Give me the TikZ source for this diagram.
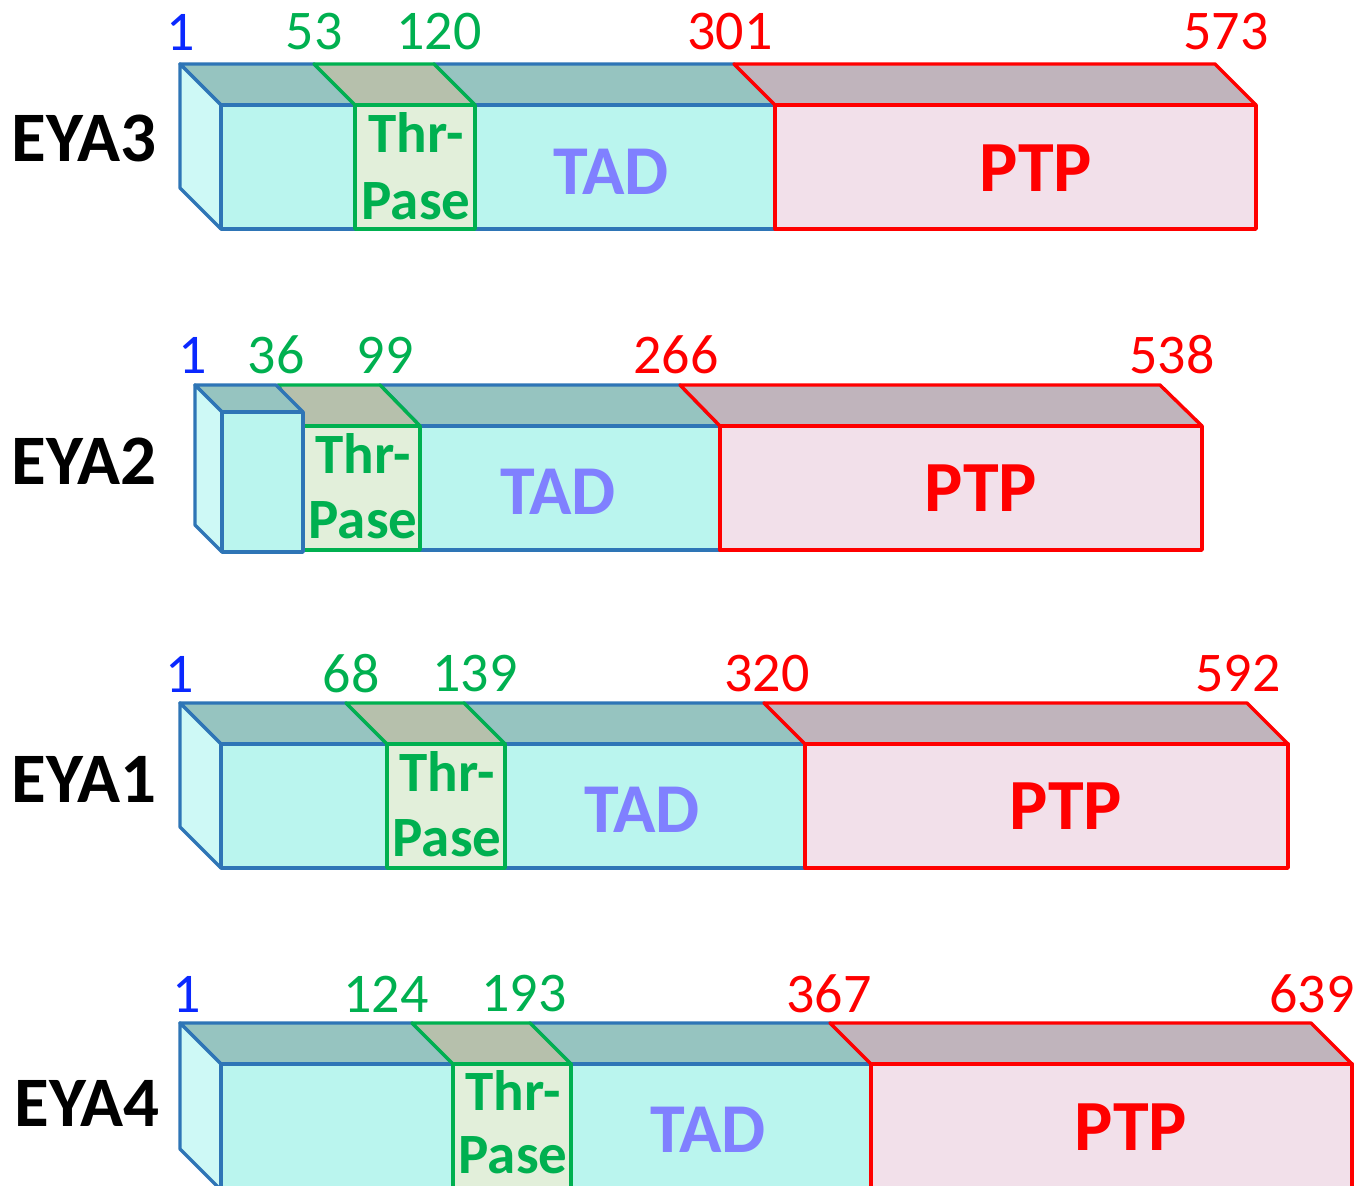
\documentclass[tikz,border=0pt]{standalone}
\usepackage{fontspec}
\setmainfont{Carlito}
\definecolor{bl}{RGB}{46,117,182}
\definecolor{cyfront}{RGB}{186,245,238}
\definecolor{cyside}{RGB}{206,249,246}
\definecolor{cytop}{RGB}{150,196,192}
\definecolor{gr}{RGB}{0,176,80}
\definecolor{grfront}{RGB}{226,239,218}
\definecolor{grtop}{RGB}{182,192,172}
\definecolor{rd}{RGB}{255,0,0}
\definecolor{rdfront}{RGB}{242,224,234}
\definecolor{rdtop}{RGB}{192,180,188}
\definecolor{tadc}{RGB}{128,128,255}
\definecolor{onec}{RGB}{10,40,255}
\tikzset{
  ln/.style={line width=3.4pt, line join=round},
  btop/.style={ln, draw=bl, fill=cytop},
  bfront/.style={ln, draw=bl, fill=cyfront},
  bside/.style={ln, draw=bl, fill=cyside},
  gtop/.style={ln, draw=gr, fill=grtop},
  gfront/.style={ln, draw=gr, fill=grfront},
  rtop/.style={ln, draw=rd, fill=rdtop},
  rfront/.style={ln, draw=rd, fill=rdfront},
  lbl/.style={inner sep=0pt},
  num/.style={lbl, font=\fontsize{56}{60}\selectfont},
  nb/.style={num, text=onec},
  ng/.style={num, text=gr},
  nr/.style={num, text=rd},
  eya/.style={lbl, font=\fontsize{71}{72}\selectfont\bfseries},
  thr/.style={lbl, text=gr, font=\fontsize{57}{60}\selectfont\bfseries},
  tad/.style={lbl, text=tadc, font=\fontsize{70}{72}\selectfont\bfseries},
  ptp/.style={lbl, text=rd, font=\fontsize{72}{74}\selectfont\bfseries},
}
% #1 yf, #2 f1, #3 f2, #4 f3, #5 f4, #6 ybot
\newcommand\protrow[6]{%
  \path[btop] (180,{#1-41}) -- ({#2-41},{#1-41}) -- (#2,#1) -- (221,#1) -- cycle;
  \path[bside] (180,{#1-41}) -- (221,#1) -- (221,#6) -- (180,{#6-41}) -- cycle;
  \path[bfront] (221,#1) rectangle (#2,#6);
  \path[btop] ({#3-41},{#1-41}) -- ({#4-41},{#1-41}) -- (#4,#1) -- (#3,#1) -- cycle;
  \path[bfront] (#3,#1) rectangle (#4,#6);
  \path[gtop] ({#2-41},{#1-41}) -- ({#3-41},{#1-41}) -- (#3,#1) -- (#2,#1) -- cycle;
  \path[gfront] (#2,#1) rectangle (#3,#6);
  \path[rtop] ({#4-41},{#1-41}) -- ({#5-41},{#1-41}) -- (#5,#1) -- (#4,#1) -- cycle;
  \path[rfront] (#4,#1) rectangle (#5,#6);
}
\begin{document}
\begin{tikzpicture}[x=1pt,y=-1pt]
\useasboundingbox (0,0) rectangle (1372,1185);
\clip (0,0) rectangle (1372,1185);

% ---------- EYA3 ----------
\protrow{105}{355}{475}{775}{1256}{229}
\node[eya] (e3) at (84,138) {EYA3};
\node[nb] (e3n1) at (181,32) {1};
\node[ng] (e3n2) at (314,32) {53};
\node[ng] (e3n3) at (439,32) {120};
\node[nr] (e3n4) at (730,32) {301};
\node[nr] (e3n5) at (1226,32) {573};
\node[thr] (e3t1) at (416,133) {Thr-};
\node[thr] (e3t2) at (416,201) {Pase};
\node[tad] (e3tad) at (611,172) {TAD};
\node[ptp] (e3ptp) at (1036,168) {PTP};

% ---------- EYA2 ----------
\path[btop] (380,385) -- (680,385) -- (720,426) -- (420,426) -- cycle;
\path[bfront] (420,426) rectangle (720,550);
\path[gtop] (278,385) -- (380,385) -- (420,426) -- (303,426) -- cycle;
\path[gfront] (303,426) rectangle (420,550);
\path[rtop] (680,385) -- (1160,385) -- (1202,426) -- (720,426) -- cycle;
\path[rfront] (720,426) rectangle (1202,550);
\path[btop] (195,385) -- (276,385) -- (303,412) -- (222,412) -- cycle;
\path[bside] (195,385) -- (222,412) -- (222,552) -- (195,525) -- cycle;
\path[bfront] (222,412) rectangle (303,552);
\node[eya] (e2) at (84,461) {EYA2};
\node[nb] (e2n1) at (193,355) {1};
\node[ng] (e2n2) at (276,355) {36};
\node[ng] (e2n3) at (385,355) {99};
\node[nr] (e2n4) at (676,355) {266};
\node[nr] (e2n5) at (1172,355) {538};
\node[thr] (e2t1) at (363,453) {Thr-};
\node[thr] (e2t2) at (363,520) {Pase};
\node[tad] (e2tad) at (558,492) {TAD};
\node[ptp] (e2ptp) at (981,488) {PTP};

% ---------- EYA1 ----------
\protrow{744}{387}{505}{805}{1288}{868}
\node[eya] (e1) at (84,779) {EYA1};
\node[nb] (e1n1) at (180,674) {1};
\node[ng] (e1n2) at (351,674) {68};
\node[ng] (e1n3) at (475,674) {139};
\node[nr] (e1n4) at (767,674) {320};
\node[nr] (e1n5) at (1238,674) {592};
\node[thr] (e1t1) at (447,771) {Thr-};
\node[thr] (e1t2) at (447,838) {Pase};
\node[tad] (e1tad) at (642,810) {TAD};
\node[ptp] (e1ptp) at (1066,806) {PTP};

% ---------- EYA4 ----------
\protrow{1064}{453}{571}{871}{1352}{1190}
\node[eya] (e4) at (87,1103) {EYA4};
\node[nb] (e4n1) at (187,994) {1};
\node[ng] (e4n2) at (386,994) {124};
\node[ng] (e4n3) at (524,994) {193};
\node[nr] (e4n4) at (829,994) {367};
\node[nr] (e4n5) at (1312,994) {639};
\node[thr] (e4t1) at (513,1090) {Thr-};
\node[thr] (e4t2) at (513,1155) {Pase};
\node[tad] (e4tad) at (708,1130) {TAD};
\node[ptp] (e4ptp) at (1131,1127) {PTP};
\end{tikzpicture}
\end{document}
